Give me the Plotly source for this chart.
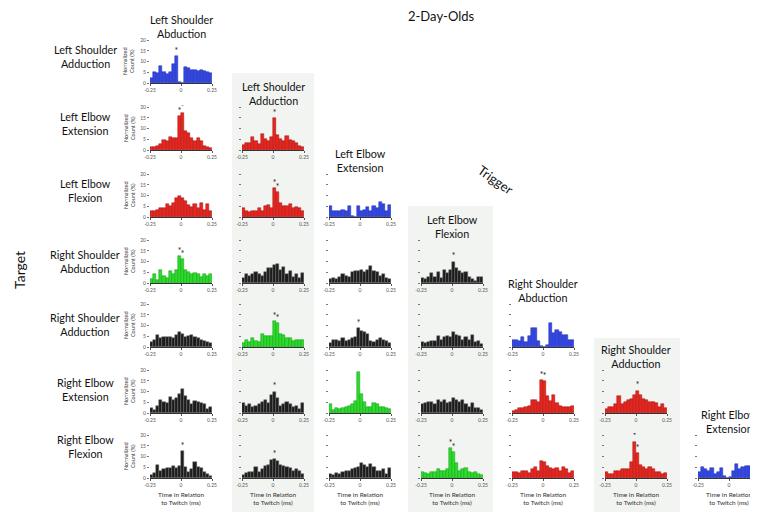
import plotly.graph_objects as go

# ---------------- DATA ----------------
trigger_labels = ["Left Shoulder<br>Abduction", "Left Shoulder<br>Adduction", "Left Elbow<br>Extension",
                  "Left Elbow<br>Flexion", "Right Shoulder<br>Abduction", "Right Shoulder<br>Adduction",
                  "Right Elbow<br>Extension"]
target_labels = ["Left Shoulder<br>Adduction", "Left Elbow<br>Extension", "Left Elbow<br>Flexion",
                 "Right Shoulder<br>Abduction", "Right Shoulder<br>Adduction", "Right Elbow<br>Extension",
                 "Right Elbow<br>Flexion"]
bin_centers = [-0.2375, -0.2125, -0.1875, -0.1625, -0.1375, -0.1125, -0.0875, -0.0625, -0.0375, -0.0125,
               0.0125, 0.0375, 0.0625, 0.0875, 0.1125, 0.1375, 0.1625, 0.1875, 0.2125, 0.2375]
x_tick_vals = [-0.25, 0, 0.25]
x_tick_text = ["-0.25", "0", "0.25"]
y_tick_vals = [0, 5, 10, 15, 20]
y_tick_text = ["0", "5", "10", "15", "20"]

r0c0 = [2.5, 5, 4.5, 8, 5, 4, 5, 9, 12.5, 0.5, 0, 7.5, 7, 6, 6, 5.5, 6, 5.5, 5, 4.5]
r1c0 = [1.5, 1.5, 2, 3, 4.5, 4, 6, 5.5, 5.5, 16, 17.5, 9, 8, 5.5, 4, 5.5, 4, 2, 1.5, 1]
r1c1 = [2.5, 3.5, 3.5, 6, 4, 3, 7.5, 5, 4, 6, 15, 7, 5, 4, 6.5, 4.5, 4, 3.5, 2, 1.5]
r2c0 = [3, 3, 3.5, 4, 4, 6, 5, 6.5, 9, 10, 9, 7.5, 5.5, 4.5, 6, 4, 6.5, 3.5, 6, 3]
r2c1 = [4, 3, 2.5, 3, 3, 4, 3, 5, 5.5, 4, 13.5, 11.5, 6.5, 5, 5, 6, 4, 4.5, 4, 3]
r2c2 = [5, 3, 3, 3, 3.5, 3, 5, 0.5, 0, 5, 3, 3.5, 4.5, 3, 5, 4, 7, 6, 3, 5.5]
r3c0 = [2, 4, 1.5, 6, 3.5, 2.5, 5.5, 4, 6, 12.5, 11, 6, 5, 4, 4.5, 4, 3, 4, 3.5, 4]
r3c1 = [2.5, 4, 3.5, 4, 5, 4, 3.5, 5, 7, 7, 8.5, 9, 6, 7.5, 4, 5.5, 3, 4, 2.5, 4.5]
r3c2 = [2, 2.5, 2, 3, 4, 3.5, 3, 5, 5.5, 5.5, 6, 5, 6, 8, 5.5, 5, 3.5, 4, 2.5, 2]
r3c3 = [2.5, 2, 3, 4.5, 3, 5, 2.5, 6, 4.5, 6, 10, 7, 5.5, 4.5, 5, 3, 2, 1, 3, 3]
r4c0 = [2.5, 3.5, 5.5, 4, 4.5, 4.5, 4.5, 4, 5.5, 7, 6, 4.5, 5, 5.5, 4.5, 4, 3.5, 3, 2.5, 2]
r4c1 = [2, 3.5, 2.5, 4, 3, 2.5, 6, 5, 5, 5, 12, 11, 6, 5.5, 4, 4, 3, 3.5, 3.5, 3.5]
r4c2 = [2, 3.5, 3.5, 3, 4, 3, 3.5, 4, 4.5, 9, 7.5, 7, 6, 3, 2.5, 3.5, 4, 3.5, 3, 2]
r4c3 = [2.5, 2, 2.5, 3, 3, 5, 3.5, 4.5, 5, 4.5, 7, 5.5, 5, 3.5, 4.5, 3.5, 5.5, 2.5, 3, 1.5]
r4c4 = [3.5, 3.5, 3, 4.5, 2.5, 5, 9, 9, 3, 0.5, 0, 1, 11, 6.5, 8, 7, 5.5, 5.5, 3.5, 3.5]
r5c0 = [2.5, 1.5, 3.5, 6, 5, 4.5, 7.5, 6, 7, 9, 11, 8, 6, 4, 5.5, 5, 4.5, 4, 2, 3]
r5c1 = [4.5, 3.5, 4, 3, 3.5, 4, 5, 6, 4.5, 8.5, 10, 7, 3.5, 4, 5, 4, 3, 3.5, 2, 4.5]
r5c2 = [4, 1.5, 2.5, 2, 2.5, 3, 3.5, 4, 5.5, 19, 9, 5, 3, 3, 4.5, 4, 3, 3, 2.5, 2]
r5c3 = [4, 4.5, 5, 5, 4, 6, 5, 6, 4.5, 5, 7, 6, 5, 6, 4, 3, 4.5, 2.5, 2.5, 1.5]
r5c4 = [1, 1.5, 2.5, 2.5, 3, 3.5, 6, 6, 5, 15.5, 15, 8, 5.5, 8.5, 4.5, 3.5, 3, 3, 3, 3.5]
r5c5 = [2, 3, 3, 4, 8, 4, 5, 6, 6.5, 8.5, 10.5, 8.5, 6.5, 6, 5, 5, 4.5, 3, 4, 2.5]
r6c0 = [1.5, 2.5, 6, 3.5, 4, 4.5, 4.5, 5.5, 4.5, 5.5, 12.5, 5, 3, 4, 7.5, 5, 4.5, 3, 2, 1]
r6c1 = [1.5, 2.5, 3, 3, 5, 3, 4, 5.5, 6, 8.5, 9, 8, 6, 5.5, 5, 4.5, 3.5, 4, 3.5, 2]
r6c2 = [2, 1.5, 2.5, 2, 3, 3.5, 3.5, 4, 4.5, 5, 7, 6, 5, 6.5, 5, 3.5, 3.5, 4, 2, 4.5]
r6c3 = [3, 2.5, 2, 3, 3, 4, 3.5, 3.5, 4, 14, 12, 7, 3.5, 4, 4.5, 3, 2.5, 3, 2, 1.5]
r6c4 = [3, 3, 2.5, 3.5, 3.5, 2.5, 4, 5, 3.5, 8, 7.5, 5.5, 4.5, 4, 4.5, 3.5, 5, 4, 2.5, 3.5]
r6c5 = [3, 2, 2, 3.5, 3.5, 4, 4, 4, 7.5, 17, 11.5, 6, 5, 4, 5, 4, 3, 3, 2, 2.5]
r6c6 = [3, 5, 4, 3.5, 4.5, 2, 3, 4.5, 1, 0, 0.5, 3.5, 6.5, 4, 5, 5.5, 5.5, 5, 4.5, 3]

# panel (row, col) -> counts, correlation class, significant bins
panels = [
    (0, 0, r0c0, "blue", [8]),
    (1, 0, r1c0, "red", [9, 10]), (1, 1, r1c1, "red", [10]),
    (2, 0, r2c0, "red", []), (2, 1, r2c1, "red", [10, 11]), (2, 2, r2c2, "blue", []),
    (3, 0, r3c0, "green", [9, 10]), (3, 1, r3c1, "black", []), (3, 2, r3c2, "black", []),
    (3, 3, r3c3, "black", [10]),
    (4, 0, r4c0, "black", []), (4, 1, r4c1, "green", [10, 11]), (4, 2, r4c2, "black", [9]),
    (4, 3, r4c3, "black", []), (4, 4, r4c4, "blue", []),
    (5, 0, r5c0, "black", []), (5, 1, r5c1, "black", [10]), (5, 2, r5c2, "green", [9]),
    (5, 3, r5c3, "black", []), (5, 4, r5c4, "red", [9, 10]), (5, 5, r5c5, "red", [10]),
    (6, 0, r6c0, "black", [10]), (6, 1, r6c1, "black", [10]), (6, 2, r6c2, "black", []),
    (6, 3, r6c3, "green", [9, 10]), (6, 4, r6c4, "red", []), (6, 5, r6c5, "red", [9, 10]),
    (6, 6, r6c6, "blue", []),
]

# ---------------- STYLE / LAYOUT ----------------
PAGE_W, PAGE_H = 758, 512
OFF = 8  # default page margin of the browser body
W, H = PAGE_W - OFF, PAGE_H - OFF
FONT = "Lato"
fill = {"blue": "#3347e6", "red": "#e8261e", "green": "#2bdc2b", "black": "#1c1c1c"}
edge = {"blue": "#1f2fa8", "red": "#9e1410", "green": "#139a13", "black": "#6a6a6a"}
col_left = [150, 242, 329, 421, 512, 605, 698]
panel_w = 62
row_base = [83, 150, 217, 283, 347, 413, 478]
row_label_y = [56, 124, 190, 261, 324, 389, 446]
panel_h = 45  # pixels spanning y range 0..21
shade = [(232, 314, 73, 512), (408, 493, 206, 512), (594, 680, 338, 512)]


def px(x):
    return min(max((x - OFF) / W, 0), 1)


def py(y):
    return min(max(1 - (y - OFF) / H, 0), 1)


fig = go.Figure()
layout = dict(
    width=W, height=H, autosize=False,
    margin=dict(l=0, r=0, t=0, b=0, pad=0, autoexpand=False),
    paper_bgcolor="white", plot_bgcolor="rgba(0,0,0,0)",
    showlegend=False, bargap=0,
    font=dict(family=FONT, color="#111"),
)
shapes = []
annotations = []


def note(text, x, y, size, angle=0, color="#111", yanchor="middle"):
    annotations.append(dict(text=text, xref="paper", yref="paper", x=px(x), y=py(y),
                            xanchor="center", yanchor=yanchor, textangle=angle, showarrow=False,
                            font=dict(size=size, color=color, family=FONT)))


for (x0, x1, y0, y1) in shade:
    shapes.append(dict(type="rect", xref="paper", yref="paper", x0=px(x0), x1=px(x1),
                       y0=py(y1), y1=py(y0), fillcolor="#f1f4f1", line=dict(width=0), layer="below"))

for k, (r, c, vals, cls, sig) in enumerate(panels):
    n = k + 1
    xa = "x" if n == 1 else f"x{n}"
    ya = "y" if n == 1 else f"y{n}"
    fig.add_trace(go.Bar(x=bin_centers, y=vals, width=0.025, xaxis=xa, yaxis=ya,
                         marker=dict(color=fill[cls], line=dict(color=edge[cls], width=0.5)),
                         hoverinfo="skip"))
    if sig:
        fig.add_trace(go.Scatter(x=[bin_centers[i] for i in sig], y=[vals[i] for i in sig],
                                 xaxis=xa, yaxis=ya, mode="text", text=["*"] * len(sig),
                                 textposition="top center",
                                 textfont=dict(size=8.5, color="#222", family=FONT), hoverinfo="skip"))
    xl = col_left[c]
    xr = min(xl + panel_w, PAGE_W)
    x_end = -0.25 + 0.5 * (xr - xl) / panel_w
    yb = row_base[r]
    layout["xaxis" if n == 1 else f"xaxis{n}"] = dict(
        domain=[px(xl), px(xr)], anchor=ya, range=[-0.25, x_end],
        tickvals=x_tick_vals, ticktext=x_tick_text, ticks="outside", ticklen=2, tickwidth=0.6,
        tickcolor="#555", tickfont=dict(size=5, color="#555", family=FONT),
        showline=True, linecolor="#333", linewidth=0.8, showgrid=False, zeroline=False,
        fixedrange=True, automargin=False)
    layout["yaxis" if n == 1 else f"yaxis{n}"] = dict(
        domain=[py(yb), py(yb - panel_h)], anchor=xa, range=[0, 21],
        tickvals=y_tick_vals, ticktext=y_tick_text, ticks="outside", ticklen=2, tickwidth=0.6,
        tickcolor="#777", showticklabels=(c == 0),
        tickfont=dict(size=5, color="#555", family=FONT),
        showline=False, showgrid=False, zeroline=False, fixedrange=True, automargin=False)
    if c == 0:
        note("Normalized<br>Count (%)", xl - 21, yb - 22, 5.5, angle=-90, color="#333")

# column (trigger) headers above the first panel of each column
for c, lab in enumerate(trigger_labels):
    note(lab, col_left[c] + panel_w / 2, row_base[c] - panel_h + 4, 10.8, yanchor="bottom")
# row (target) labels
for r, lab in enumerate(target_labels):
    note(lab, 85, row_label_y[r], 10.8)
# bottom x titles
for c in range(7):
    note("Time in Relation<br>to Twitch (ms)", col_left[c] + panel_w / 2, 498, 6.5, color="#333")

note("2-Day-Olds", 441, 16, 13)
note("Target", 19, 270, 14, angle=-90)
note("Trigger", 496, 180, 13, angle=35)

layout["shapes"] = shapes
layout["annotations"] = annotations
fig.update_layout(**layout)
fig.write_html("out.html")
